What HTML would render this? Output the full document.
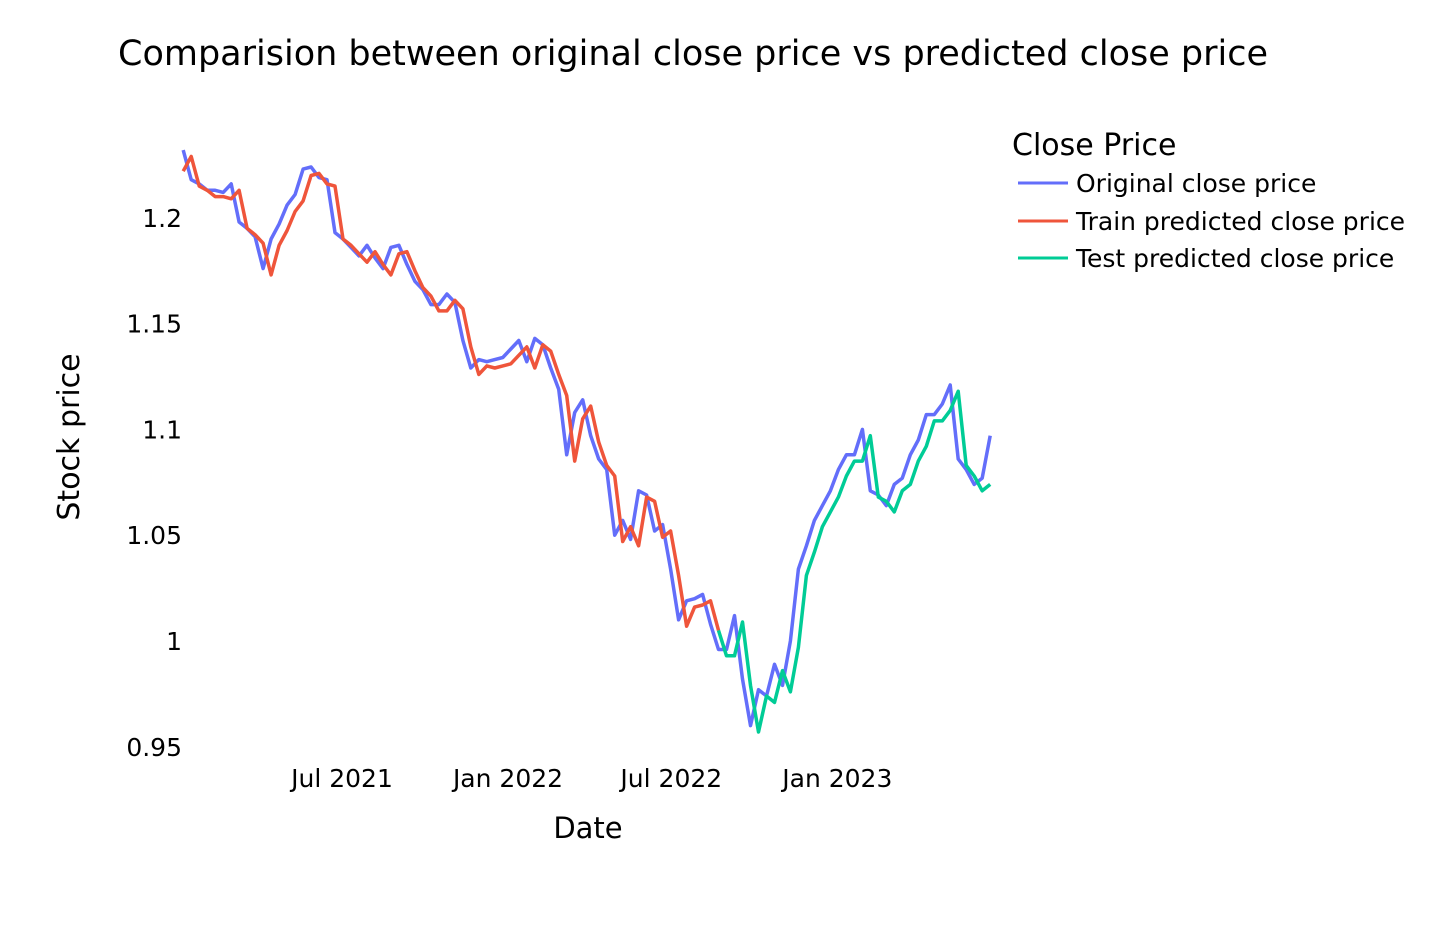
<!DOCTYPE html>
<html><head><meta charset="utf-8">
<style>
body{margin:0;background:#fff;font-family:"Liberation Sans","DejaVu Sans",sans-serif;}
svg text{font-family:"DejaVu Sans","Liberation Sans",sans-serif;fill:#000;}
</style></head>
<body>
<svg id="chart" width="1456" height="941">
<text x="118" y="65" font-size="35" textLength="1150" lengthAdjust="spacingAndGlyphs">Comparision between original close price vs predicted close price</text>
<text x="0" y="0" font-size="30" transform="translate(79,437) rotate(-90)" text-anchor="middle">Stock price</text>
<text x="588" y="838" font-size="29" text-anchor="middle">Date</text>
<g id="yticks"></g>
<g id="xticks"></g>
<g id="series"></g>
<g>
<text x="1012" y="155" font-size="30">Close Price</text>
<g><line x1="1018" y1="183" x2="1068" y2="183" stroke="#636efa" stroke-width="3"/><text x="1076" y="192" font-size="25">Original close price</text></g>
<g><line x1="1018" y1="221" x2="1068" y2="221" stroke="#EF553B" stroke-width="3"/><text x="1076" y="230" font-size="25">Train predicted close price</text></g>
<g><line x1="1018" y1="258" x2="1068" y2="258" stroke="#00cc96" stroke-width="3"/><text x="1076" y="267" font-size="25">Test predicted close price</text></g>
</g>
</svg>
<script>
const startDate = "2021-01-06";
const stepDays = 8.856;
const original = [1.232,1.218,1.216,1.213,1.213,1.212,1.216,1.198,1.195,1.191,1.176,1.190,1.197,1.206,1.211,1.223,1.224,1.219,1.218,1.193,1.190,1.186,1.182,1.187,1.181,1.176,1.186,1.187,1.178,1.170,1.166,1.159,1.159,1.164,1.160,1.142,1.129,1.133,1.132,1.133,1.134,1.138,1.142,1.132,1.143,1.140,1.129,1.119,1.088,1.108,1.114,1.097,1.086,1.081,1.050,1.057,1.048,1.071,1.069,1.052,1.055,1.034,1.010,1.019,1.020,1.022,1.008,0.996,0.996,1.012,0.982,0.960,0.977,0.974,0.989,0.979,1.000,1.034,1.045,1.057,1.064,1.071,1.081,1.088,1.088,1.100,1.071,1.069,1.064,1.074,1.077,1.088,1.095,1.107,1.107,1.112,1.121,1.086,1.081,1.074,1.077,1.097];
const trainPred = [1.222,1.229,1.215,1.213,1.210,1.210,1.209,1.213,1.195,1.192,1.188,1.173,1.187,1.194,1.203,1.208,1.220,1.221,1.216,1.215,1.190,1.187,1.183,1.179,1.184,1.178,1.173,1.183,1.184,1.175,1.167,1.163,1.156,1.156,1.161,1.157,1.139,1.126,1.130,1.129,1.130,1.131,1.135,1.139,1.129,1.140,1.137,1.126,1.116,1.085,1.105,1.111,1.094,1.083,1.078,1.047,1.054,1.045,1.068,1.066,1.049,1.052,1.031,1.007,1.016,1.017,1.019,1.005];
const testStart = 67;
const testPred = [1.005,0.993,0.993,1.009,0.979,0.957,0.974,0.971,0.986,0.976,0.997,1.031,1.042,1.054,1.061,1.068,1.078,1.085,1.085,1.097,1.068,1.066,1.061,1.071,1.074,1.085,1.092,1.104,1.104,1.109,1.118,1.083,1.078,1.071,1.074];
const yTicks = [0.95,1,1.05,1.1,1.15,1.2];
const yTickLabels = ["0.95","1","1.05","1.1","1.15","1.2"];
const xTicks = ["2021-07-01","2022-01-01","2022-07-01","2023-01-01"];
const xTickLabels = ["Jul 2021","Jan 2022","Jul 2022","Jan 2023"];

const NS = "http://www.w3.org/2000/svg";
const DAY = 86400000;
const t0 = Date.parse("2021-07-01");
function xs(ms){ return 342 + (ms - t0)/DAY * 0.9022; }
function ys(v){ return 641 - (v - 1) * 2116; }
function dateAt(i){ return Date.parse(startDate) + i*stepDays*DAY; }

const yg = document.getElementById('yticks');
yTicks.forEach((v,k)=>{
  const t = document.createElementNS(NS,'text');
  t.setAttribute('x',182); t.setAttribute('y',ys(v)+9);
  t.setAttribute('text-anchor','end'); t.setAttribute('font-size','25');
  t.textContent = yTickLabels[k];
  
  
  yg.appendChild(t);
});
const xg = document.getElementById('xticks');
xTicks.forEach((d,k)=>{
  const t = document.createElementNS(NS,'text');
  t.setAttribute('x',xs(Date.parse(d))); t.setAttribute('y',787);
  t.setAttribute('text-anchor','middle'); t.setAttribute('font-size','25');
  t.textContent = xTickLabels[k];
  
  
  xg.appendChild(t);
});
const sg = document.getElementById('series');
function drawLine(vals, offset, color, name){
  const pts = vals.map((v,i)=> xs(dateAt(i+offset)).toFixed(1)+','+ys(v).toFixed(1)).join(' ');
  const p = document.createElementNS(NS,'polyline');
  p.setAttribute('points',pts); p.setAttribute('fill','none');
  p.setAttribute('stroke',color); p.setAttribute('stroke-width','3.5');
  p.setAttribute('stroke-linejoin','round');
  
  
  sg.appendChild(p);
}
drawLine(original,0,'#636efa','original-close-line');
drawLine(trainPred,0,'#EF553B','train-predicted-line');
drawLine(testPred,testStart,'#00cc96','test-predicted-line');
</script>
</body></html>
